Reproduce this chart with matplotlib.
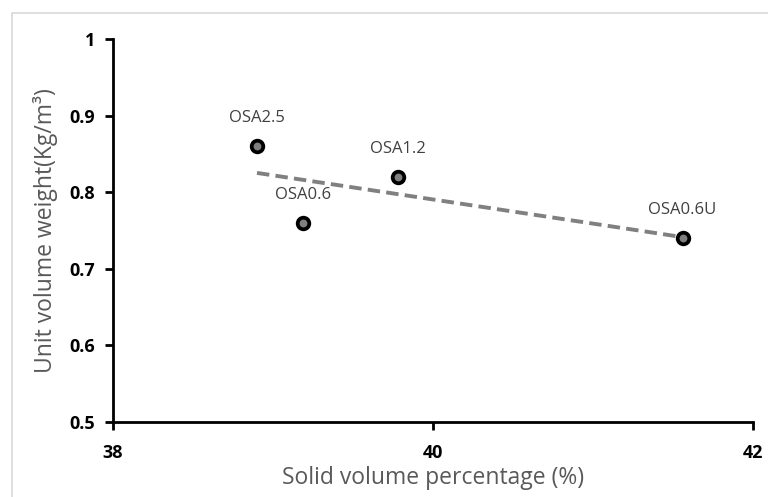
import matplotlib
matplotlib.use("Agg")
import matplotlib.pyplot as plt
from matplotlib.patches import Rectangle
import numpy as np

plt.rcParams['font.family'] = ['Open Sans', 'DejaVu Sans']

labels = ["OSA2.5", "OSA0.6", "OSA1.2", "OSA0.6U"]
x_vals = [38.9, 39.19, 39.78, 41.56]
y_vals = [0.86, 0.76, 0.82, 0.74]
x_ticks = [38, 40, 42]
y_ticks = [0.5, 0.6, 0.7, 0.8, 0.9, 1.0]
y_tick_labels = ["0.5", "0.6", "0.7", "0.8", "0.9", "1"]

fig = plt.figure(figsize=(7.68, 4.97), dpi=100)
ax = fig.add_axes([113/768, 1-422/497, (753-113)/768, (422-39)/497])

# outer chart border
fig.patches.append(Rectangle((12/768, -0.1), 1.2, 1-13/497+0.1, transform=fig.transFigure,
                             fill=False, edgecolor='#d9d9d9', linewidth=1.2))

# trendline
coef = np.polyfit(x_vals, y_vals, 1)
xt = np.array([min(x_vals), max(x_vals)])
ax.plot(xt, np.polyval(coef, xt), linestyle=(0, (3.2, 1.6)), color='#808080', linewidth=2.8, zorder=2)

ax.scatter(x_vals, y_vals, s=70, facecolor='#7f7f7f', edgecolor='black', linewidth=2.7, zorder=3)
for lab, xv, yv in zip(labels, x_vals, y_vals):
    ax.annotate(lab, (xv, yv), xytext=(0, 20), textcoords='offset points',
                ha='center', va='center', fontsize=12, color='#404040')

ax.set_xlim(38, 42)
ax.set_ylim(0.5, 1.0)
ax.set_xticks(x_ticks)
ax.set_xticklabels([str(t) for t in x_ticks])
ax.set_yticks(y_ticks)
ax.set_yticklabels(y_tick_labels)
for lbl in ax.get_xticklabels() + ax.get_yticklabels():
    lbl.set_fontweight('bold')
    lbl.set_fontsize(13)
ax.tick_params(axis='both', direction='out', length=6, width=2, color='black')
ax.tick_params(axis='y', pad=7)
ax.tick_params(axis='x', pad=10)
for side in ['top', 'right']:
    ax.spines[side].set_visible(False)
for side in ['left', 'bottom']:
    ax.spines[side].set_linewidth(2)
    ax.spines[side].set_color('black')

ax.set_xlabel("Solid volume percentage (%)", fontsize=16.5, color='#595959', labelpad=3)
ax.set_ylabel("Unit volume weight(Kg/m³)", fontsize=16.5, color='#595959', labelpad=8)

fig.savefig("out.png", dpi=100)
